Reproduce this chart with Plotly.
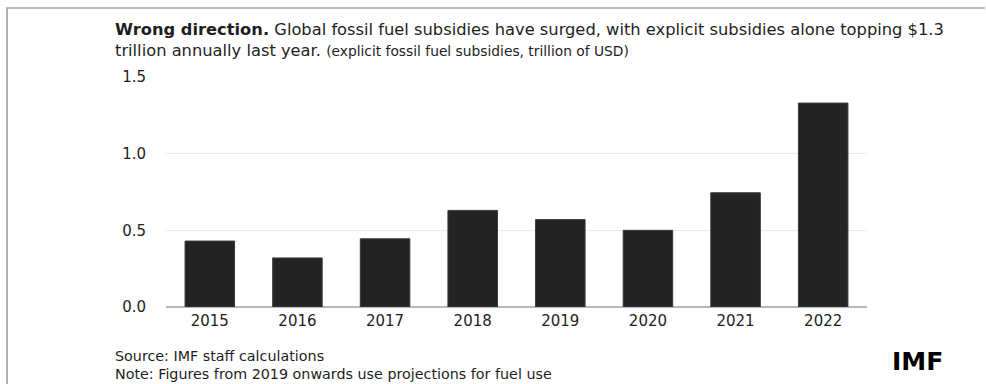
import plotly.graph_objects as go

# Explicit fossil fuel subsidies, trillion USD
years = ["2015", "2016", "2017", "2018", "2019", "2020", "2021", "2022"]
subsidies = [0.43, 0.32, 0.445, 0.63, 0.57, 0.50, 0.745, 1.33]
y_ticks = [0.0, 0.5, 1.0, 1.5]
y_tick_labels = ["0.0", "0.5", "1.0", "1.5"]

W, H = 986, 384
L, R, T, B = 166, 119, 77, 77
PW, PH = W - L - R, H - T - B


def px(x):
    return (x - L) / PW


def py(y):
    return (H - B - y) / PH


FONT = "DejaVu Sans"
INK = "#1e1e1e"

fig = go.Figure(
    go.Bar(
        x=years,
        y=subsidies,
        marker=dict(color="#232323", line=dict(color="#3a3a3a", width=1)),
        width=0.565,
        hoverinfo="x+y",
    )
)

fig.update_layout(
    width=W,
    height=H,
    margin=dict(l=L, r=R, t=T, b=B, pad=0),
    paper_bgcolor="white",
    plot_bgcolor="white",
    showlegend=False,
    font=dict(family=FONT, color=INK),
    xaxis=dict(
        type="category",
        showgrid=False,
        showline=False,
        ticks="",
        tickfont=dict(size=15, color=INK),
        ticklabelstandoff=3,
    ),
    yaxis=dict(
        range=[0, 1.5],
        tickvals=y_ticks,
        ticktext=y_tick_labels,
        showgrid=True,
        gridcolor="#ececec",
        gridwidth=1,
        zeroline=True,
        zerolinecolor="#b8b8b8",
        zerolinewidth=1.5,
        showline=False,
        ticks="",
        tickfont=dict(size=15, color=INK),
        ticklabelstandoff=19,
    ),
)

annotations = [
    dict(
        text="<b>Wrong direction.</b> Global fossil fuel subsidies have surged, "
        "with explicit subsidies alone topping $1.3",
        x=px(114), y=py(40), yanchor="bottom", font=dict(size=16.3),
    ),
    dict(
        text="trillion annually last year. "
        "<span style='font-size:13.8px'>(explicit fossil fuel subsidies, trillion of USD)</span>",
        x=px(114), y=py(40), yanchor="top", font=dict(size=16.3),
    ),
    dict(text="Source: IMF staff calculations", x=px(114), y=py(356),
         yanchor="middle", font=dict(size=14.3)),
    dict(
        text="Note: Figures from 2019 onwards use projections for fuel use",
        x=px(114), y=py(374), yanchor="middle", font=dict(size=14.3),
    ),
    dict(text="<b>IMF</b>", x=px(891), y=py(361), yanchor="middle",
         font=dict(size=25, color="#000")),
]
for a in annotations:
    font = dict(family=FONT, color=INK)
    font.update(a.pop("font"))
    fig.add_annotation(
        xref="paper", yref="paper", xanchor="left", showarrow=False,
        borderpad=0, font=font, **a,
    )

# Frame lines along the top and left edge
fig.add_shape(type="line", xref="paper", yref="paper",
              x0=px(6), x1=px(985), y0=py(8), y1=py(8),
              line=dict(color="#a8a8a8", width=1.5))
fig.add_shape(type="line", xref="paper", yref="paper",
              x0=px(7), x1=px(7), y0=py(8), y1=py(384),
              line=dict(color="#b0b0b0", width=2))

fig.write_html("out.html")
